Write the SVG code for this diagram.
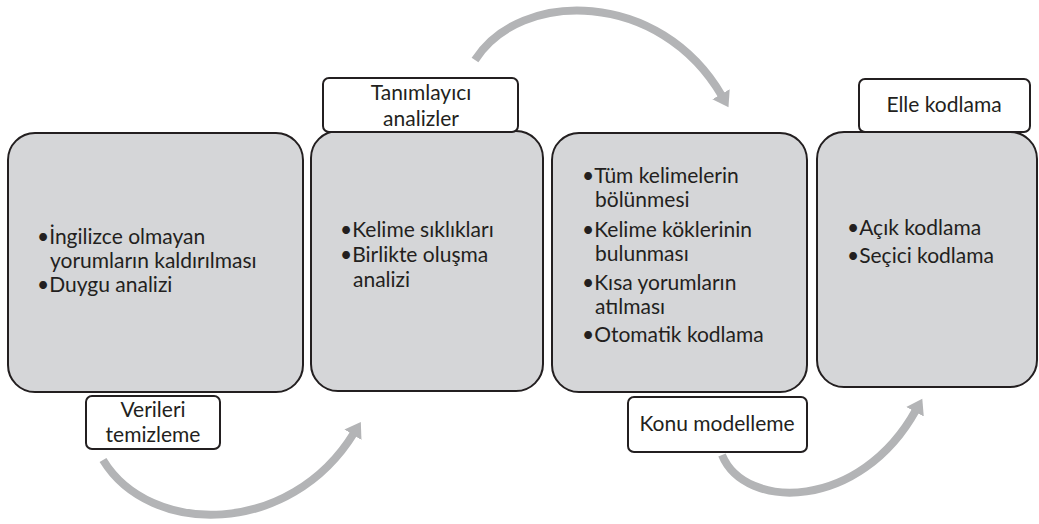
<svg xmlns="http://www.w3.org/2000/svg" width="1039" height="524" viewBox="0 0 1039 524">
<style>
.box{fill:#d5d6d8;stroke:#231f20;stroke-width:2}
.lbl{fill:#ffffff;stroke:#231f20;stroke-width:2}
.t{font-family:Lato,"Liberation Sans",sans-serif;font-size:21px;fill:#231f20}
.c{text-anchor:middle}
.arc{fill:none;stroke:#b3b4b6;stroke-width:8}
</style>
<defs>
<marker id="ah" markerUnits="userSpaceOnUse" markerWidth="20" markerHeight="22" refX="2" refY="10" orient="auto" viewBox="0 0 20 22">
<path d="M0,0 L15,10 L0,20 z" fill="#b3b4b6"/>
</marker>
</defs>
<g id="connectors">
<path class="arc" d="M103,460 C150,537 290,537 354,433" marker-end="url(#ah)"/>
<path class="arc" d="M475,60 C520,-11 660,-11 722,96" marker-end="url(#ah)"/>
<path class="arc" d="M722,455 C745,511 860,511 916,410" marker-end="url(#ah)"/>
</g>
<g id="node1">
<rect class="box" x="8" y="133" width="295" height="259" rx="27"/>
<text class="t" x="37" y="244">•İngilizce olmayan</text>
<text class="t" x="50" y="268">yorumların kaldırılması</text>
<text class="t" x="37" y="292">•Duygu analizi</text>
</g>
<g id="node2">
<rect class="box" x="311" y="131" width="232" height="260" rx="27"/>
<text class="t" x="340" y="237">•Kelime sıklıkları</text>
<text class="t" x="340" y="262">•Birlikte oluşma</text>
<text class="t" x="353" y="287">analizi</text>
</g>
<g id="node3">
<rect class="box" x="552" y="133" width="255" height="259" rx="27"/>
<text class="t" x="582" y="183">•Tüm kelimelerin</text>
<text class="t" x="595" y="207">bölünmesi</text>
<text class="t" x="582" y="237">•Kelime köklerinin</text>
<text class="t" x="595" y="261">bulunması</text>
<text class="t" x="582" y="290">•Kısa yorumların</text>
<text class="t" x="595" y="314">atılması</text>
<text class="t" x="582" y="342">•Otomatik kodlama</text>
</g>
<g id="node4">
<rect class="box" x="817" y="132" width="220" height="255" rx="27"/>
<text class="t" x="847" y="235">•Açık kodlama</text>
<text class="t" x="847" y="263">•Seçici kodlama</text>
</g>
<g id="label1">
<rect class="lbl" x="86" y="396" width="134" height="53" rx="6"/>
<text class="t c" x="153" y="417">Verileri</text>
<text class="t c" x="153" y="442">temizleme</text>
</g>
<g id="label2">
<rect class="lbl" x="323" y="78" width="195" height="54" rx="6"/>
<text class="t c" x="421" y="100">Tanımlayıcı</text>
<text class="t c" x="421" y="126">analizler</text>
</g>
<g id="label3">
<rect class="lbl" x="628" y="397" width="179" height="55" rx="6"/>
<text class="t c" x="717" y="431">Konu modelleme</text>
</g>
<g id="label4">
<rect class="lbl" x="859" y="79" width="171" height="53" rx="6"/>
<text class="t c" x="944" y="112">Elle kodlama</text>
</g>
</svg>
